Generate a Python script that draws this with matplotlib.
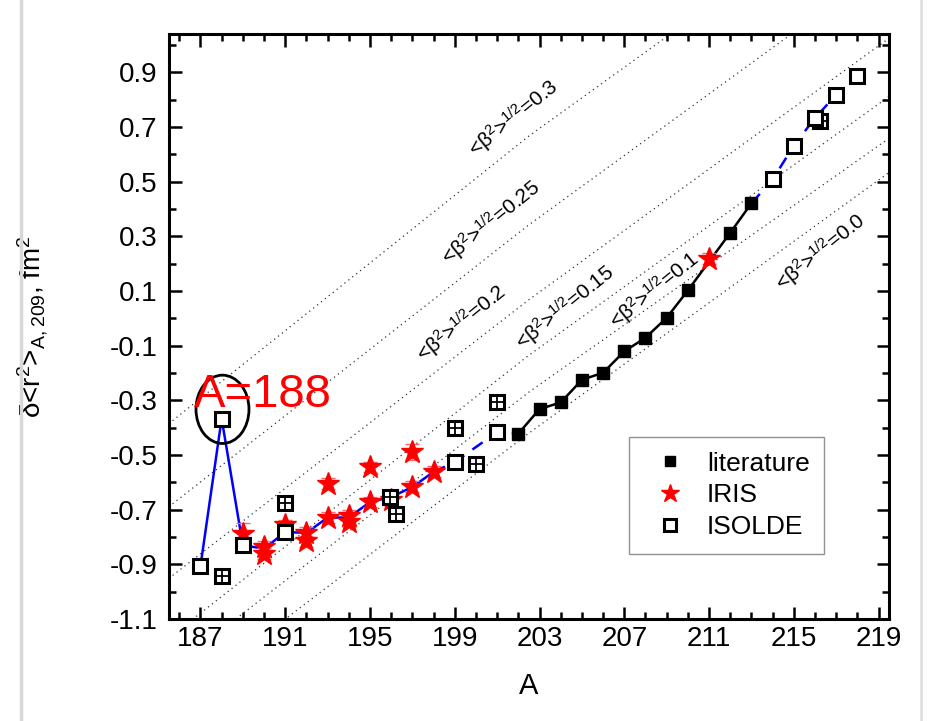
import matplotlib
matplotlib.use("Agg")
import matplotlib.pyplot as plt
from matplotlib.patches import Ellipse
from matplotlib.lines import Line2D

plt.rcParams.update({"font.family": ["Liberation Sans", "DejaVu Sans"], "font.size": 20,
                     "mathtext.default": "regular"})

# ---- data ----
lit_A = [202, 203, 204, 205, 206, 207, 208, 209, 210, 212, 213]
lit_y = [-0.422, -0.332, -0.308, -0.225, -0.199, -0.121, -0.071, 0.002, 0.102, 0.313, 0.421]

iris_A = [189, 190, 190, 191, 192, 192, 193, 193, 194, 194, 195, 195, 196, 197, 197, 198, 211]
iris_y = [-0.788, -0.835, -0.862, -0.757, -0.785, -0.815, -0.605, -0.729, -0.722, -0.745,
          -0.544, -0.672, -0.665, -0.489, -0.617, -0.562, 0.218]
iris_err = [0.04, 0.02, 0.02, 0.02, 0.02, 0.02, 0.02, 0.02, 0.02, 0.02,
            0.02, 0.02, 0.02, 0.028, 0.02, 0.02, 0.02]

isolde_A = [187, 188, 189, 191, 199, 201, 214, 215, 216, 217, 218]
isolde_y = [-0.907, -0.367, -0.830, -0.782, -0.526, -0.416, 0.508, 0.632, 0.733, 0.818, 0.888]

isolde_x_A = [188, 191, 195.95, 196.25, 199, 200, 201, 216.25]
isolde_x_y = [-0.944, -0.676, -0.654, -0.715, -0.400, -0.534, -0.307, 0.721]

# blue guide lines (solid through the light isotopes, dashed where they bridge)
blue_A = [187, 188, 189, 190, 191, 192, 193, 194, 195, 196, 197, 198]
blue_y = [-0.907, -0.367, -0.830, -0.843, -0.782, -0.785, -0.729, -0.729, -0.672, -0.654, -0.617, -0.562]
bridge1_A = [198, 199, 201, 202]
bridge1_y = [-0.562, -0.526, -0.416, -0.422]
bridge2_A = [213, 214, 215, 216, 217, 218]
bridge2_y = [0.421, 0.508, 0.632, 0.733, 0.818, 0.888]

# iso-deformation lines: y at A = 185.5, 202.5, 219.5
beta_vals = ["0.3", "0.25", "0.2", "0.15", "0.1", "0.0"]
beta_A = [185.5, 202.5, 219.5]
beta_y = {
    "0.3": [-0.386, 0.667, 1.616],
    "0.25": [-0.690, 0.342, 1.300],
    "0.2": [-0.952, 0.068, 1.025],
    "0.15": [-1.170, -0.135, 0.812],
    "0.1": [-1.290, -0.270, 0.659],
    "0.0": [-1.426, -0.420, 0.534],
}
beta_lab_xy = {"0.3": (201.78, 0.731), "0.25": (200.74, 0.350), "0.2": (199.33, -0.019),
               "0.15": (204.22, 0.040), "0.1": (208.41, 0.102), "0.0": (216.27, 0.241)}

fig = plt.figure(figsize=(9.37, 7.21), dpi=100)
ax = fig.add_axes([0.18, 0.1415, 0.769, 0.8113])

for b in beta_vals:
    ax.plot(beta_A, beta_y[b], color="#333333", lw=0.9, ls=(0, (1, 3)), zorder=1)
    ax.text(*beta_lab_xy[b], "<β$^{2}$>$^{1/2}$=" + b, rotation=39, rotation_mode="anchor",
            ha="center", va="center", fontsize=15, zorder=2)

ax.plot(blue_A, blue_y, color="#0000ff", lw=1.8, zorder=3)
ax.plot(bridge1_A, bridge1_y, color="#0000ff", lw=1.8, ls=(0, (5, 4)), zorder=3)
ax.plot(bridge2_A, bridge2_y, color="#0000ff", lw=1.8, ls=(0, (5, 4)), zorder=3)
ax.plot(lit_A, lit_y, color="black", lw=1.8, zorder=3)

ax.errorbar(iris_A, iris_y, yerr=iris_err, fmt="none", ecolor="#ff6666", elinewidth=1,
            capsize=5, zorder=4)
ax.plot(iris_A, iris_y, ls="none", marker="*", ms=17, color="#ff0000", mec="#ff0000", zorder=5,
        label="IRIS")
ax.plot(lit_A, lit_y, ls="none", marker="s", ms=9, color="black", zorder=6, label="literature")
ax.plot(isolde_x_A, isolde_x_y, ls="none", marker="s", ms=10, mfc="white", mec="black", mew=2.2,
        zorder=6)
ax.plot(isolde_x_A, isolde_x_y, ls="none", marker="+", ms=8, mec="black", mew=1.3, zorder=7)
ax.plot(isolde_A, isolde_y, ls="none", marker="s", ms=10, mfc="white", mec="black", mew=2.2,
        zorder=7, label="ISOLDE")

ax.add_patch(Ellipse((188.04, -0.333), 2.5, 0.25, fill=False, ec="black", lw=2, zorder=8))
ax.text(186.7, -0.28, "A=188", color="#ff0000", fontsize=34, ha="left", va="center", zorder=9)

ax.set_xlim(185.5, 219.5)
ax.set_ylim(-1.1, 1.04)
ax.set_xticks(range(187, 220, 4))
ax.set_xticks(range(186, 220), minor=True)
yt = [round(-1.1 + 0.2 * i, 1) for i in range(11)]
ax.set_yticks(yt)
ax.set_yticklabels([f"{v:.1f}" for v in yt])
ax.set_yticks([round(-1.0 + 0.2 * i, 1) for i in range(11)], minor=True)
ax.tick_params(which="both", direction="in", top=True, right=True, width=1.8, labelsize=20)
ax.tick_params(which="major", length=9)
ax.tick_params(which="minor", length=5)
ax.tick_params(axis="y", pad=8)
ax.tick_params(axis="x", pad=5)
for s in ax.spines.values():
    s.set_linewidth(2.2)

ax.set_xlabel("A", fontsize=21)
ax.xaxis.set_label_coords(0.5, -0.09)
ax.set_ylabel("δ<r$^{2}$>$_{A,209}$, fm$^{2}$", fontsize=20)
ax.yaxis.set_label_coords(-0.164, 0.5)

h, l = ax.get_legend_handles_labels()
order = [l.index("literature"), l.index("IRIS"), l.index("ISOLDE")]
leg = ax.legend([h[i] for i in order], [l[i] for i in order], loc="upper left",
                bbox_to_anchor=(0.639, 0.311), borderaxespad=0, fontsize=19, frameon=True,
                fancybox=False, edgecolor="#777777", handletextpad=0.4, borderpad=0.55,
                labelspacing=0.3, handlelength=2.0, markerscale=0.8)
leg.get_frame().set_linewidth(1.0)

fig.add_artist(Line2D([0.022, 0.022], [0, 1], color="#d8d8d8", lw=2.5, transform=fig.transFigure))
fig.add_artist(Line2D([0.983, 0.983], [0, 1], color="#e0e0e0", lw=2, transform=fig.transFigure))

fig.savefig("out.png", dpi=100)
